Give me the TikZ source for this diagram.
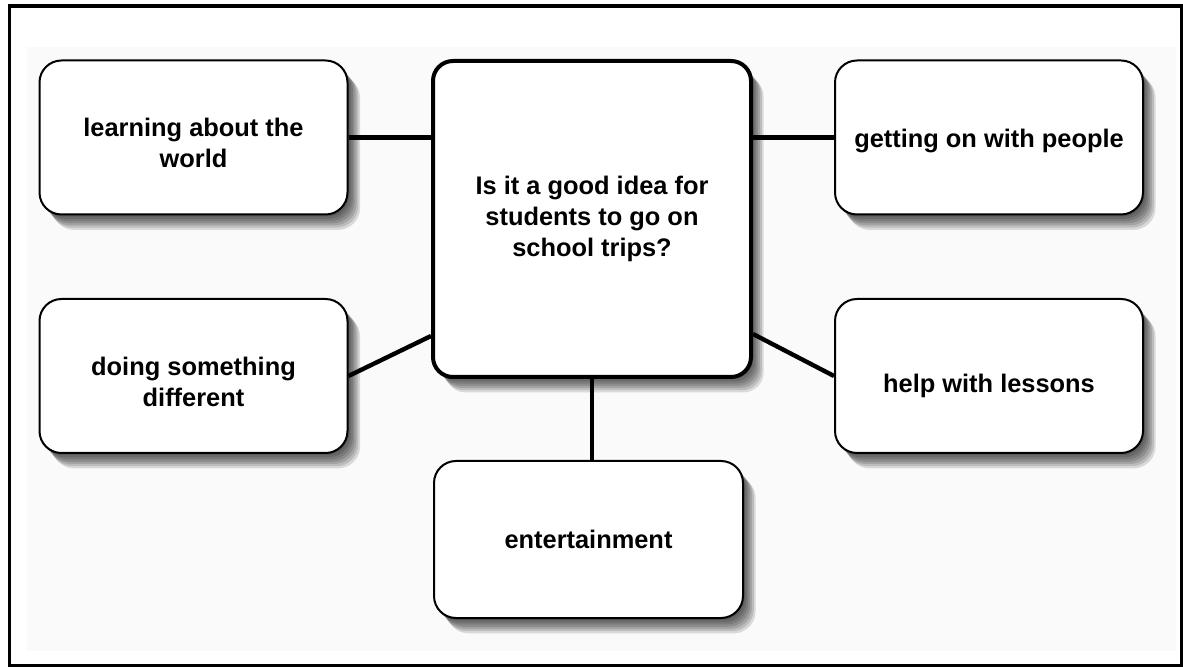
\documentclass[tikz,border=0pt]{standalone}
\usepackage{fontspec}
\setmainfont{Liberation Sans}
\usetikzlibrary{shadows}

\tikzset{
  softshadow/.style={
    general shadow={fill=black, opacity=0.13, shadow xshift=0.9pt, shadow yshift=-1.1pt},
    general shadow={fill=black, opacity=0.13, shadow xshift=1.8pt, shadow yshift=-2.2pt},
    general shadow={fill=black, opacity=0.13, shadow xshift=2.7pt, shadow yshift=-3.3pt},
    general shadow={fill=black, opacity=0.13, shadow xshift=3.6pt, shadow yshift=-4.4pt},
    general shadow={fill=black, opacity=0.13, shadow xshift=4.5pt, shadow yshift=-5.5pt},
    general shadow={fill=black, opacity=0.13, shadow xshift=5.4pt, shadow yshift=-6.6pt},
    general shadow={fill=black, opacity=0.13, shadow xshift=6.3pt, shadow yshift=-7.7pt}
  },
  idea/.style={draw=black, line width=1pt, rounded corners=11pt, fill=white,
    align=center, inner sep=0pt, softshadow,
    font=\bfseries\fontsize{12.7}{15.5}\selectfont,
    minimum width=154pt, minimum height=77pt},
  topic/.style={idea, line width=2pt, rounded corners=10pt,
    minimum width=159pt, minimum height=158pt},
  link/.style={draw=black, line width=2.2pt}
}

\begin{document}
\begin{tikzpicture}[x=0.5pt, y=-0.5pt]
\useasboundingbox (0,0) rectangle (1183,667);
% frame and light backdrop
\fill[black!2] (27,47) rectangle (1176,651);
\draw[line width=1.65pt] (9.7,6) rectangle (1181.3,665.3);

% centre question
\node[topic] (ctr) at (592,219) {Is it a good idea for\\students to go on\\school trips?};

% reasons around it
\node[idea, text height=30.3pt] (world) at (193.5,137.5) {learning about the\\world};
\node[idea, text height=12.3pt] (people) at (989,137.5) {getting on with people};
\node[idea, text height=30.3pt] (diff) at (193.5,376) {doing something\\different};
\node[idea, text height=19.3pt] (lessons) at (989,376) {help with lessons};
\node[idea, minimum width=154.5pt, minimum height=78.5pt] (fun) at (588.5,539.5) {entertainment};

% links
\draw[link] (world.east) -- (world.east -| ctr.west);
\draw[link] (people.west) -- (people.west -| ctr.east);
\draw[link] (diff.east) -- ([yshift=21.5pt]ctr.south west);
\draw[link] ([yshift=22.5pt]ctr.south east) -- (lessons.west);
\draw[link] (ctr.south) -- (ctr.south |- fun.north);
\end{tikzpicture}
\end{document}
